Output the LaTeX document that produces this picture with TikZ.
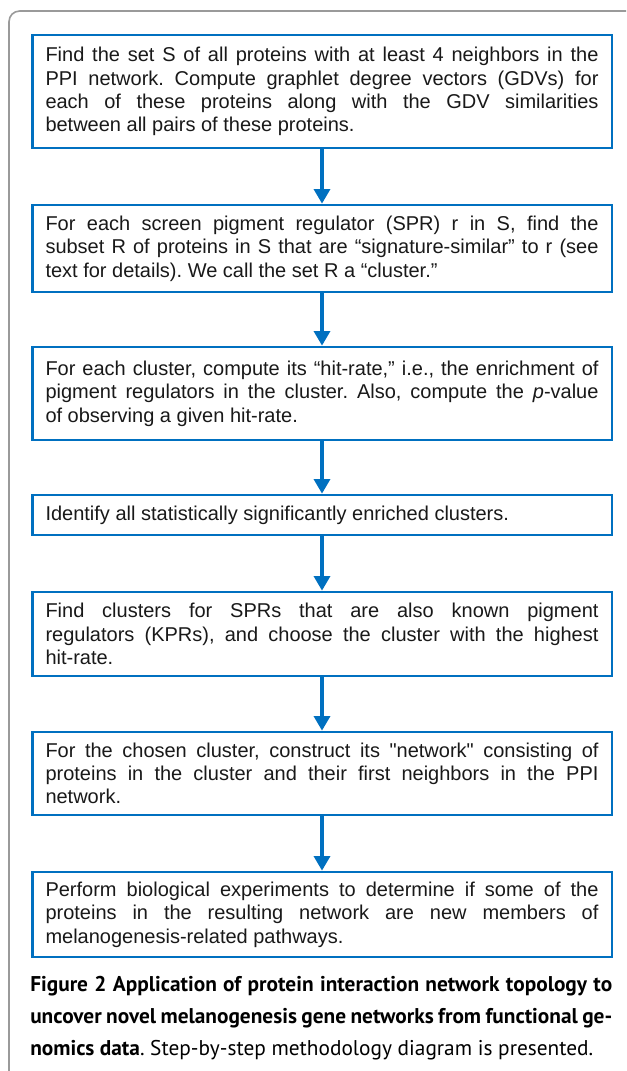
\documentclass[tikz,border=0pt]{standalone}
\usepackage{fontspec}
\setmainfont{Liberation Sans}
\newfontfamily\captionfont{PT Sans}
\usetikzlibrary{positioning,arrows.meta}
\usepackage{xcolor}
\definecolor{stepblue}{HTML}{0070C0}
\definecolor{framegray}{HTML}{9A9A9A}
\tikzstyle{stepbox}=[rectangle, draw=stepblue, line width=2pt, fill=white,
text width=414.75pt, inner xsep=10pt, align=justify, text=black!90,
font=\fontsize{15}{17.5}\selectfont]
\tikzstyle{flow}=[draw=stepblue, line width=2.6pt, -{Triangle[width=12pt,length=11pt]}]
\frenchspacing

\begin{document}
\begin{tikzpicture}[x=0.75pt,y=-0.75pt]
            \useasboundingbox (0,0) rectangle (626,1071);
            % frame of the figure
            \draw[framegray, line width=1.2pt, rounded corners=8pt] (9,1071) -- (9,11) -- (626,11);

            \node (find)[stepbox, minimum height=84.75pt] at (322,91.5)
                {Find the set S of all proteins with at least 4 neighbors in the\linebreak
                 PPI network. Compute graphlet degree vectors (GDVs) for\linebreak
                 each of these proteins along with the GDV similarities\linebreak
                 between all pairs of these proteins.};
            \node (cluster)[stepbox, minimum height=65.25pt] at (322,248.5)
                {For each screen pigment regulator (SPR) r in S, find the\linebreak
                 subset R of proteins in S that are “signature-similar” to r (see\linebreak
                 text for details). We call the set R a “cluster.”};
            \node (hitrate)[stepbox, minimum height=69.75pt] at (322,393.5)
                {For each cluster, compute its “hit-rate,” i.e., the enrichment of\linebreak
                 pigment regulators in the cluster. Also, compute the \textit{p}-value\linebreak
                 of observing a given hit-rate.};
            \node (enriched)[stepbox, minimum height=30pt] at (322,515)
                {Identify all statistically significantly enriched clusters.};
            \node (known)[stepbox, minimum height=63pt] at (322,634)
                {Find clusters for SPRs that are also known pigment\linebreak
                 regulators (KPRs), and choose the cluster with the highest\linebreak
                 hit-rate.};
            \node (network)[stepbox, minimum height=62.25pt] at (322,773.5)
                {For the chosen cluster, construct its \textquotedbl network\textquotedbl{} consisting of\linebreak
                 proteins in the cluster and their first neighbors in the PPI\linebreak
                 network.};
            \node (experiment)[stepbox, minimum height=63.75pt] at (322,914.5)
                {Perform biological experiments to determine if some of the\linebreak
                 proteins in the resulting network are new members of\linebreak
                 melanogenesis-related pathways.};

            % arrows between the steps
            \draw[flow] (find) -- (cluster);
            \draw[flow] (cluster) -- (hitrate);
            \draw[flow] (hitrate) -- (enriched);
            \draw[flow] (enriched) -- (known);
            \draw[flow] (known) -- (network);
            \draw[flow] (network) -- (experiment);

            \node (caption)[anchor=base west, inner sep=0pt, text width=436.5pt, align=justify,
                font=\captionfont\fontsize{16}{24}\selectfont] at (30,991)
                {\textbf{Figure 2 Application of protein interaction network topology to\linebreak
                 uncover novel melanogenesis gene networks from functional ge-\linebreak
                 nomics data}. Step-by-step methodology diagram is presented.};
        \end{tikzpicture}
\end{document}
